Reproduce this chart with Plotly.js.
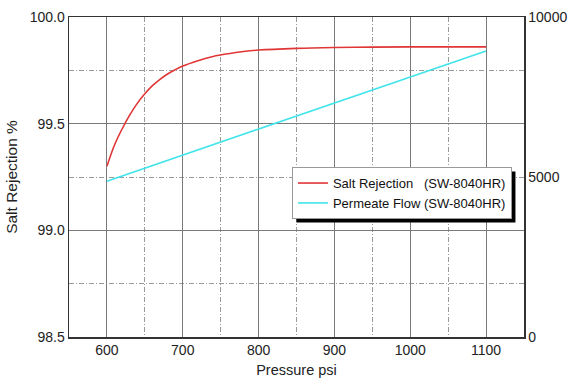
<!DOCTYPE html>
<html>
<head>
<meta charset="utf-8">
<script src="https://cdn.plot.ly/plotly-3.0.1.min.js"></script>
<style>html,body{margin:0;padding:0;background:#fff;}#chart{width:572px;height:380px;}</style>
</head>
<body>
<div id="chart"></div>
<script>
// Data
var pressure = [600, 610, 620, 630, 640, 650, 660, 670, 680, 690, 700, 720, 740, 760, 780, 800, 850, 900, 950, 1000, 1050, 1100];
var saltRejection = [99.30, 99.40, 99.475, 99.54, 99.595, 99.64, 99.678, 99.708, 99.733, 99.753, 99.77, 99.795, 99.815, 99.828, 99.838, 99.845, 99.853, 99.857, 99.859, 99.86, 99.86, 99.86];
var flowPressure = [600, 1100];
var permeateFlow = [4870, 8940];
var seriesNames = ["Salt Rejection\u00a0\u00a0\u00a0(SW-8040HR)", "Permeate Flow (SW-8040HR)"];
var xTicks = [600, 700, 800, 900, 1000, 1100];
var yTicks = [98.5, 99.0, 99.5, 100.0];
var y2Ticks = [0, 5000, 10000];

var font = "Liberation Sans, Arial, sans-serif";
var traces = [
  {x: pressure, y: saltRejection, type: 'scatter', mode: 'lines', name: seriesNames[0],
   line: {color: '#e03636', width: 1.6, shape: 'spline', smoothing: 1}},
  {x: flowPressure, y: permeateFlow, type: 'scatter', mode: 'lines', name: seriesNames[1], yaxis: 'y2',
   line: {color: '#40e4ea', width: 1.6}}
];
var minorGrid = {showgrid: true, gridcolor: '#9a9a9a', griddash: '5px,2px,1px,2px', gridwidth: 1};
var layout = {
  width: 572, height: 380,
  margin: {l: 69, r: 48, t: 17, b: 43},
  paper_bgcolor: '#fff', plot_bgcolor: '#fff',
  font: {family: font, size: 14, color: '#222'},
  showlegend: true,
  legend: {x: 0.49, y: 0.531, xanchor: 'left', yanchor: 'top', bgcolor: '#fff',
    bordercolor: '#999', borderwidth: 1, font: {family: font, size: 13, color: '#111'},
    tracegroupgap: 0, itemwidth: 30},
  xaxis: {range: [550, 1150], tickvals: xTicks, ticktext: xTicks.map(String), ticks: '',
    showgrid: true, gridcolor: '#7a7a7a', gridwidth: 1,
    minor: Object.assign({dtick: 50, tick0: 550}, minorGrid),
    showline: true, linecolor: '#333', linewidth: 1.5, mirror: true, zeroline: false,
    title: {text: 'Pressure psi', font: {family: font, size: 14.5}, standoff: 7},
    tickfont: {family: font, size: 14}},
  yaxis: {range: [98.5, 100.0], tickvals: yTicks, ticktext: yTicks.map(function(v){return v.toFixed(1);}), ticks: '',
    showgrid: true, gridcolor: '#7a7a7a', gridwidth: 1,
    minor: Object.assign({tickvals: [98.75, 99.25, 99.75]}, minorGrid),
    showline: true, linecolor: '#333', linewidth: 1.5, mirror: true, zeroline: false,
    title: {text: 'Salt Rejection %', font: {family: font, size: 15.5}, standoff: 8},
    tickfont: {family: font, size: 14}},
  yaxis2: {range: [0, 10000], tickvals: y2Ticks, ticktext: y2Ticks.map(String), overlaying: 'y', side: 'right',
    showgrid: false, zeroline: false, showline: true, linecolor: '#333', linewidth: 1.5, ticks: '',
    tickfont: {family: font, size: 14}}
};
var gd = document.getElementById('chart');
Plotly.newPlot(gd, traces, layout, {staticPlot: true, displayModeBar: false}).then(function(){
  // drop shadow behind the legend box
  var bg = gd.querySelector('.legend .bg');
  if (!bg) return;
  var r = bg.getBoundingClientRect();
  var gr = gd.getBoundingClientRect();
  var s = gd._fullLayout._size;
  var off = 4;
  var px = function(x){ return (x - gr.left - s.l) / s.w; };
  var py = function(y){ return 1 - (y - gr.top - s.t) / s.h; };
  return Plotly.relayout(gd, {shapes: [{type: 'rect', xref: 'paper', yref: 'paper',
    x0: px(r.left + off), x1: px(r.right + off), y0: py(r.bottom + off), y1: py(r.top + off),
    fillcolor: '#000', line: {width: 0}, layer: 'above'}]});
});
</script>
</body>
</html>
